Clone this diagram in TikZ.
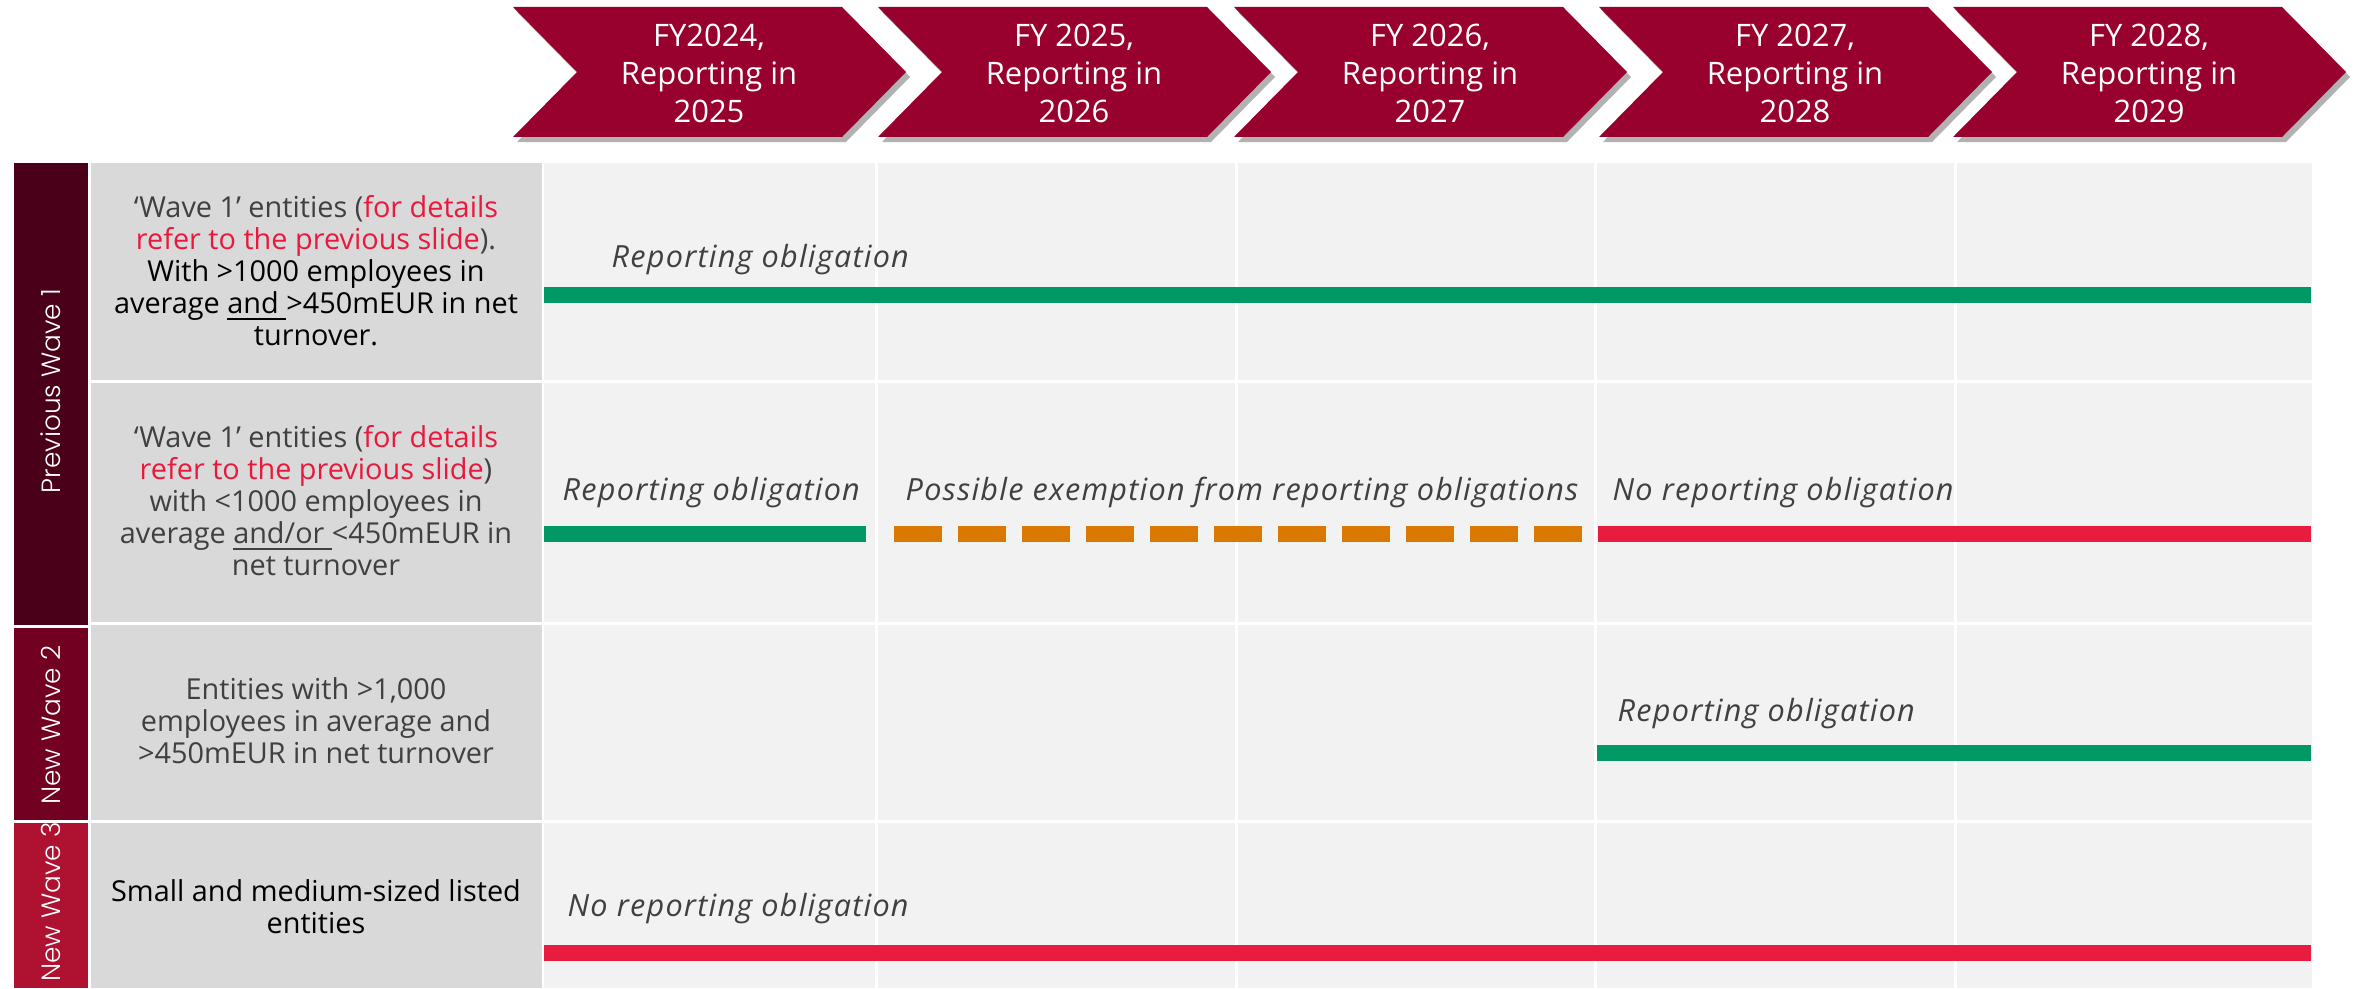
\documentclass[tikz,border=0pt]{standalone}
\usepackage{fontspec}
\setmainfont{Open Sans}
\newfontfamily\wavefont{Poppins Light}
\newfontfamily\statefont{Open Sans}[LetterSpace=4]
\usetikzlibrary{shadows}

\definecolor{chevred}{HTML}{98002E}
\definecolor{waveone}{HTML}{4A0018}
\definecolor{wavetwo}{HTML}{720020}
\definecolor{wavethree}{HTML}{AE1230}
\definecolor{labelgray}{HTML}{D9D9D9}
\definecolor{cellgray}{HTML}{F2F2F2}
\definecolor{txtgray}{HTML}{404040}
\definecolor{slidered}{HTML}{E8193C}
\definecolor{okgreen}{HTML}{009966}
\definecolor{maybeorange}{HTML}{D97900}
\definecolor{nored}{HTML}{E81C3F}

\begin{document}
\begin{tikzpicture}[x=0.01cm,y=-0.01cm,
		chevron/.style={fill=chevred,drop shadow={shadow xshift=0.04cm,shadow yshift=-0.05cm,opacity=0.3,fill=black}},
		yeartext/.style={white,align=center,font=\fontsize{8.8}{10.8}\selectfont},
		wavetext/.style={white,rotate=90,font=\wavefont\fontsize{7.5}{8}\selectfont},
		grouptext/.style={align=center,text=txtgray,font=\fontsize{8.2}{9.1}\selectfont},
		statetext/.style={anchor=base west,text=txtgray,font=\statefont\itshape\fontsize{8.7}{9}\selectfont},
		bar/.style={line width=0.16cm},
		gap/.style={white,line width=0.03cm}]
		\tikzstyle{every node}+=[inner sep=0pt]
		\useasboundingbox (0,0) rectangle (2358,988);
		\foreach \L/\txt [count=\i] in {513/{FY2024,\\Reporting in\\2025},878/{FY 2025,\\Reporting in\\2026},1234/{FY 2026,\\Reporting in\\2027},1599/{FY 2027,\\Reporting in\\2028},1953/{FY 2028,\\Reporting in\\2029}}
		{
			\path[chevron] (\L,7) -- (\L+329,7) -- (\L+393,72) -- (\L+329,137) -- (\L,137) -- (\L+64,72) -- cycle;
			\draw (\L+196,73) node[yeartext] (year\i) {\txt};
		}
		\fill [cellgray] (544,163) rectangle (2312,988);
		\fill [labelgray] (91,163) rectangle (542,988);
		\foreach \y in {381.5,623.5,821.5}
			\draw [gap] (91,\y) -- (2312,\y);
		\foreach \x in {876,1236,1595,1955}
			\draw [gap] (\x,163) -- (\x,988);
		\fill [waveone] (14,163) rectangle (88,625);
		\fill [wavetwo] (14,628) rectangle (88,820);
		\fill [wavethree] (14,823) rectangle (88,988);
		\draw (51,391) node[wavetext] (prevwave) {Previous Wave 1};
		\draw (51,725) node[wavetext] (newwave2) {New Wave 2};
		\draw (51,902) node[wavetext] (newwave3) {New Wave 3};
		\draw (316,271) node[grouptext] (group1) {‘Wave 1’ entities (\textcolor{slidered}{for details}\\\textcolor{slidered}{refer to the previous slide}).\\\textcolor{black}{With >1000 employees in}\\\textcolor{black}{average \underline{and\ }>450mEUR in net}\\\textcolor{black}{turnover.}};
		\draw (316,501) node[grouptext] (group2) {‘Wave 1’ entities (\textcolor{slidered}{for details}\\\textcolor{slidered}{refer to the previous slide})\\with <1000 employees in\\average \underline{and/or\ }<450mEUR in\\net turnover};
		\draw (316,721) node[grouptext] (group3) {Entities with >1,000\\employees in average and\\>450mEUR in net turnover};
		\draw (316,907) node[grouptext,text=black] (group4) {Small and medium-sized listed\\entities};
		\coordinate (g1s) at (544,295);
		\coordinate (g1e) at (2311,295);
		\coordinate (g2s) at (544,534);
		\coordinate (g2e) at (866,534);
		\coordinate (o2s) at (894,534);
		\coordinate (o2e) at (1582,534);
		\coordinate (r2s) at (1598,534);
		\coordinate (r2e) at (2311,534);
		\coordinate (g3s) at (1597,753);
		\coordinate (g3e) at (2311,753);
		\coordinate (r4s) at (544,952.5);
		\coordinate (r4e) at (2311,952.5);
		\draw [bar,okgreen] (g1s) -- (g1e);
		\draw [bar,okgreen] (g2s) -- (g2e);
		\draw [bar,maybeorange,dash pattern=on 0.48cm off 0.16cm] (o2s) -- (o2e);
		\draw [bar,nored] (r2s) -- (r2e);
		\draw [bar,okgreen] (g3s) -- (g3e);
		\draw [bar,nored] (r4s) -- (r4e);
		\draw (611,268) node[statetext] (state1) {Reporting obligation};
		\draw (562,500) node[statetext] (state2a) {Reporting obligation};
		\draw (905,500) node[statetext] (state2b) {Possible exemption from reporting obligations};
		\draw (1612,500) node[statetext] (state2c) {No reporting obligation};
		\draw (1617,721) node[statetext] (state3) {Reporting obligation};
		\draw (567,916) node[statetext] (state4) {No reporting obligation};
	\end{tikzpicture}
\end{document}
